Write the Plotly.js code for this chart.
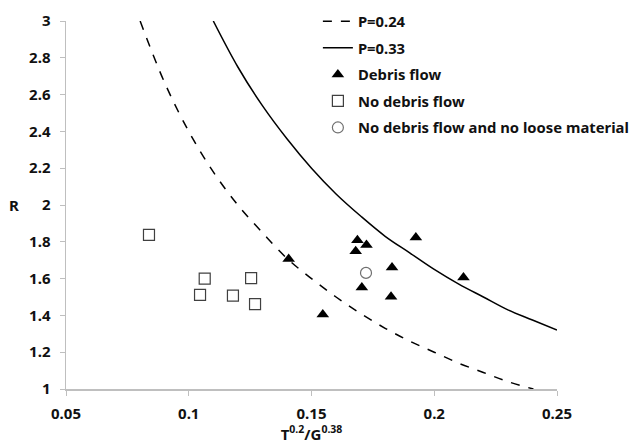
<!DOCTYPE html>
<html>
<head>
<meta charset="utf-8">
<script src="https://cdn.plot.ly/plotly-3.0.1.min.js"></script>
<style>html,body{margin:0;padding:0;background:#fff;}#chart{width:633px;height:446px;}</style>
</head>
<body>
<div id="chart"></div>
<script>
// Curve P=0.24 (dashed)
const p024X = [0.0802, 0.09, 0.10, 0.11, 0.12, 0.13, 0.14, 0.15, 0.16, 0.17, 0.18, 0.19, 0.20, 0.21, 0.22, 0.23, 0.2404];
const p024Y = [3.0, 2.67, 2.40, 2.18, 2.00, 1.85, 1.71, 1.60, 1.50, 1.41, 1.33, 1.26, 1.20, 1.14, 1.09, 1.04, 1.0];
// Curve P=0.33 (solid)
const p033X = [0.110, 0.12, 0.13, 0.14, 0.15, 0.16, 0.17, 0.18, 0.19, 0.20, 0.21, 0.22, 0.23, 0.24, 0.25];
const p033Y = [3.0, 2.75, 2.54, 2.36, 2.20, 2.06, 1.94, 1.83, 1.74, 1.65, 1.57, 1.50, 1.43, 1.375, 1.32];
// Debris flow points
const debrisX = [0.1407, 0.1546, 0.1687, 0.1724, 0.1680, 0.1925, 0.1828, 0.1705, 0.1824, 0.2119];
const debrisY = [1.706, 1.405, 1.809, 1.782, 1.748, 1.824, 1.661, 1.552, 1.501, 1.606];
// No debris flow points
const noDebrisX = [0.0838, 0.1065, 0.1046, 0.1180, 0.1254, 0.1270];
const noDebrisY = [1.838, 1.600, 1.512, 1.507, 1.603, 1.461];
// No debris flow and no loose material
const noLooseX = [0.1722];
const noLooseY = [1.631];

const xTitle = 'T<sup>0.2</sup>/G<sup>0.38</sup>';
const yTitle = 'R';

const FONT = {family: 'Noto Sans', size: 15, color: '#111', weight: 700};
const LEGFONT = {family: 'Noto Sans', size: 14.8, color: '#111', weight: 700};

const traces = [
  {x: p024X, y: p024Y, mode: 'lines', name: 'P=0.24', line: {color: '#000', width: 1.5, dash: 'dash', shape: 'spline'}, legendgroup: 'a'},
  {x: p033X, y: p033Y, mode: 'lines', name: 'P=0.33', line: {color: '#000', width: 1.5, shape: 'spline'}, legendgroup: 'b'},
  {x: debrisX, y: debrisY, mode: 'markers', name: 'Debris flow', marker: {symbol: 'triangle-up', size: 11, color: '#000'}, legendgroup: 'c'},
  {x: noDebrisX, y: noDebrisY, mode: 'markers', name: 'No debris flow', marker: {symbol: 'square-open', size: 11, color: '#404040', line: {width: 1.2}}, legendgroup: 'd'},
  {x: noLooseX, y: noLooseY, mode: 'markers', name: 'No debris flow and no loose material', marker: {symbol: 'circle-open', size: 11, color: '#707070', line: {width: 1.2}}, legendgroup: 'e'}
];

const layout = {
  width: 633, height: 446,
  margin: {l: 66, r: 76, t: 21, b: 57, autoexpand: false},
  paper_bgcolor: '#fff', plot_bgcolor: '#fff',
  font: FONT,
  showlegend: true,
  legend: {x: 0.513, y: 1.043, xanchor: 'left', yanchor: 'top', bgcolor: 'rgba(0,0,0,0)', font: LEGFONT, tracegroupgap: 4.3, traceorder: 'grouped'},
  xaxis: {
    range: [0.05, 0.25], tickvals: [0.05, 0.1, 0.15, 0.2, 0.25], ticktext: ['0.05', '0.1', '0.15', '0.2', '0.25'],
    showgrid: false, zeroline: false, showline: true, linecolor: '#bfbfbf', linewidth: 1.5,
    ticks: 'outside', ticklen: 5, tickcolor: '#bfbfbf', tickfont: FONT, ticklabelstandoff: 5,
    title: {text: xTitle, font: FONT, standoff: 6}
  },
  yaxis: {
    range: [1, 3], dtick: 0.2, tick0: 1,
    showgrid: false, zeroline: false, showline: true, linecolor: '#bfbfbf', linewidth: 1.5,
    ticks: 'outside', ticklen: 5, tickcolor: '#bfbfbf', tickfont: FONT, ticklabelstandoff: 6
  },
  annotations: [
    {text: yTitle, xref: 'paper', yref: 'paper', x: -0.105, y: 0.5, xanchor: 'center', yanchor: 'middle', showarrow: false, font: FONT}
  ]
};

Plotly.newPlot('chart', traces, layout, {displayModeBar: false, staticPlot: true});
</script>
</body>
</html>
